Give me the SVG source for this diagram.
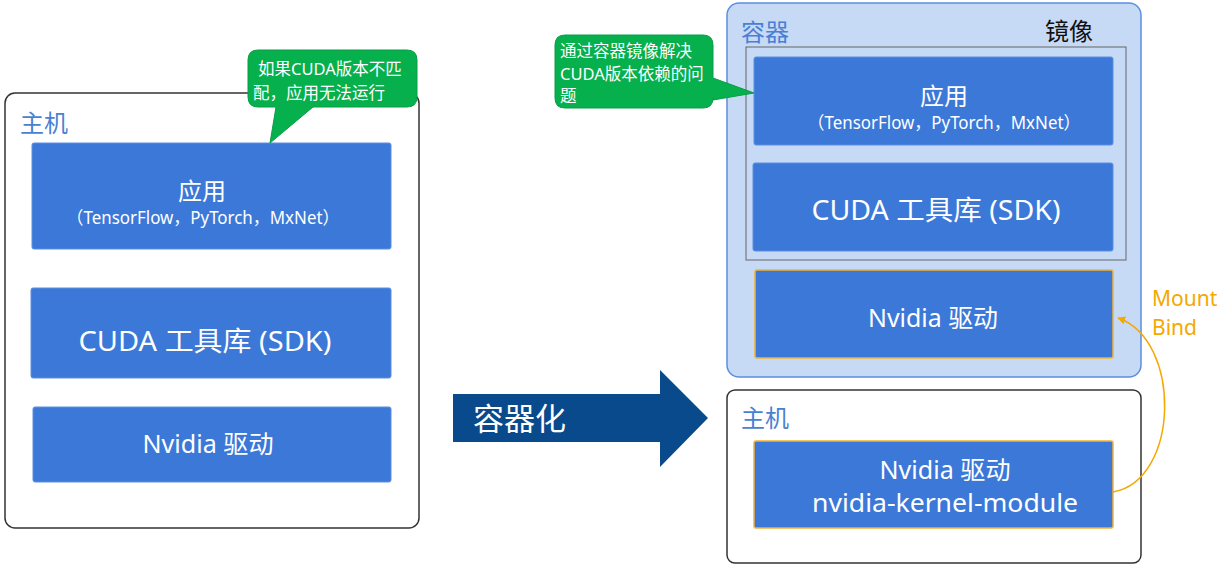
<svg xmlns="http://www.w3.org/2000/svg" width="1219" height="569" viewBox="0 0 1219 569">
<style>
text{font-family:"Noto Sans","Noto Sans CJK SC",sans-serif}
.host{fill:#fff;stroke:#333;stroke-width:1.5}
.blk{fill:#3b78d8;stroke:#5d8fe0;stroke-width:1}
.drv{fill:#3b78d8;stroke:#f2b233;stroke-width:1.5}
.wt{fill:#fff;text-anchor:middle}
.lbl{fill:#4a7fd4;font-size:24px}
.call{fill:#05b04d;stroke:#0a9d46;stroke-width:1}
.ct{fill:#fff;font-size:16.5px}
</style>
<defs>
<marker id="ah" viewBox="0 0 10 10" refX="9" refY="5" markerWidth="8" markerHeight="8" orient="auto-start-reverse" markerUnits="userSpaceOnUse">
<path d="M0,0 L10,5 L0,10 z" fill="#f5a800"/>
</marker>
</defs>
<g id="left-host">
<rect class="host" x="5" y="93" width="414" height="435" rx="10"/>
<text class="lbl" x="20" y="132">主机</text>
</g>
<g id="left-app">
<rect class="blk" x="32" y="143" width="359" height="106" rx="2"/>
<text class="wt" x="202" y="200" font-size="24">应用</text>
<text class="wt" x="203" y="224" font-size="17.5" textLength="273" lengthAdjust="spacingAndGlyphs">（TensorFlow，PyTorch，MxNet）</text>
</g>
<g id="left-cuda">
<rect class="blk" x="31" y="288" width="360" height="90" rx="2"/>
<text class="wt" x="205" y="351" font-size="27" textLength="253" lengthAdjust="spacingAndGlyphs">CUDA 工具库 (SDK)</text>
</g>
<g id="left-driver">
<rect class="blk" x="33" y="407" width="358" height="75" rx="2"/>
<text class="wt" x="208" y="453" font-size="25" textLength="131" lengthAdjust="spacingAndGlyphs">Nvidia 驱动</text>
</g>
<g id="callout-left">
<path class="call" d="M258,50 H407 Q417,50 417,60 V97 Q417,107 407,107 H313 L270,143 L276,107 H258 Q248,107 248,97 V60 Q248,50 258,50 Z"/>
<text class="ct" x="258" y="75">如果CUDA版本不匹</text>
<text class="ct" x="253" y="99">配，应用无法运行</text>
</g>
<g id="arrow-containerize">
<path d="M453,394 H660 V370 L708,418 L660,467 V442 H453 Z" fill="#084a8c"/>
<text x="473" y="430" font-size="31" fill="#fff">容器化</text>
</g>
<g id="container">
<rect x="727" y="3" width="414" height="374" rx="12" fill="#c6d9f5" stroke="#5b8fe0" stroke-width="1.5"/>
<text class="lbl" x="741" y="41">容器</text>
</g>
<g id="image">
<rect x="746" y="47" width="380" height="213" fill="none" stroke="#666" stroke-width="1"/>
<text x="1045" y="40" font-size="24" fill="#111">镜像</text>
</g>
<g id="right-app">
<rect class="blk" x="754" y="57" width="359" height="88" rx="2"/>
<text class="wt" x="944" y="105" font-size="24">应用</text>
<text class="wt" x="944" y="129" font-size="17.5" textLength="273" lengthAdjust="spacingAndGlyphs">（TensorFlow，PyTorch，MxNet）</text>
</g>
<g id="right-cuda">
<rect class="blk" x="753" y="163" width="360" height="88" rx="2"/>
<text class="wt" x="936" y="220" font-size="27" textLength="249" lengthAdjust="spacingAndGlyphs">CUDA 工具库 (SDK)</text>
</g>
<g id="container-driver">
<rect class="drv" x="755" y="270" width="358" height="88" rx="2"/>
<text class="wt" x="933" y="327" font-size="25" textLength="130" lengthAdjust="spacingAndGlyphs">Nvidia 驱动</text>
</g>
<g id="right-host">
<rect class="host" x="727" y="390" width="414" height="173" rx="8"/>
<text class="lbl" x="741" y="427">主机</text>
</g>
<g id="host-driver">
<rect class="drv" x="754" y="441" width="359" height="87" rx="2"/>
<text class="wt" x="945" y="479" font-size="25" textLength="131" lengthAdjust="spacingAndGlyphs">Nvidia 驱动</text>
<text class="wt" x="945" y="512" font-size="25" textLength="266" lengthAdjust="spacingAndGlyphs">nvidia-kernel-module</text>
</g>
<g id="callout-right">
<path class="call" d="M565,35 H703 Q713,35 713,45 V78 L754,93 L713,100 V98 Q713,108 703,108 H565 Q555,108 555,98 V45 Q555,35 565,35 Z"/>
<text class="ct" x="560" y="57">通过容器镜像解决</text>
<text class="ct" x="560" y="80">CUDA版本依赖的问</text>
<text class="ct" x="560" y="102">题</text>
</g>
<g id="connectors">
<path d="M1113,492 C1180,480 1182,340 1118,318" fill="none" stroke="#f5a800" stroke-width="1.5" marker-end="url(#ah)"/>
<text x="1152" y="306" font-size="21" fill="#f5a800">Mount</text>
<text x="1152" y="335" font-size="21" fill="#f5a800">Bind</text>
</g>
</svg>
